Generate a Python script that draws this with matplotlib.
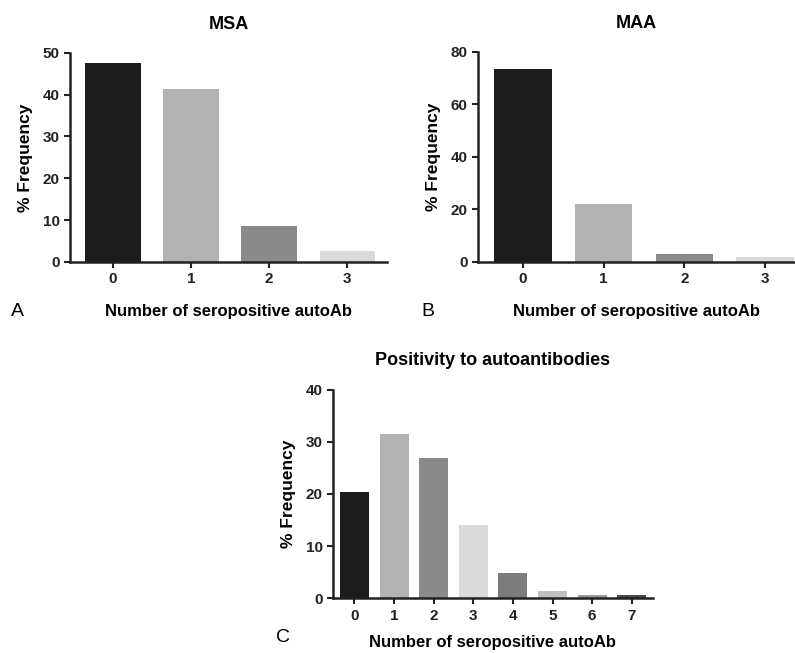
import matplotlib
matplotlib.use("Agg")
import matplotlib.pyplot as plt

plt.rcParams['font.family'] = ['Liberation Sans', 'DejaVu Sans']
plt.rcParams['font.weight'] = 'bold'

# Panel A - MSA
msa_counts = [0, 1, 2, 3]
msa_freq = [47.7, 41.3, 8.6, 2.5]
msa_colors = ['#1c1c1c', '#b2b2b2', '#8a8a8a', '#dadada']

# Panel B - MAA
maa_counts = [0, 1, 2, 3]
maa_freq = [73.4, 22.2, 2.9, 1.7]
maa_colors = ['#1c1c1c', '#b2b2b2', '#8a8a8a', '#dadada']

# Panel C - all autoantibodies
all_counts = [0, 1, 2, 3, 4, 5, 6, 7]
all_freq = [20.3, 31.6, 27.0, 14.0, 4.8, 1.4, 0.6, 0.6]
all_colors = ['#1c1c1c', '#b2b2b2', '#8a8a8a', '#dadada',
              '#7c7c7c', '#c0c0c0', '#9a9a9a', '#4a4a4a']

xlabel = 'Number of seropositive autoAb'
ylabel = '% Frequency'


def style_axes(ax, counts, ymax, yticks, xlim, xpad=13):
    ax.set_xlim(*xlim)
    ax.set_ylim(0, ymax)
    ax.set_xticks(counts)
    ax.set_yticks(yticks)
    for s in ['top', 'right']:
        ax.spines[s].set_visible(False)
    for s in ['left', 'bottom']:
        ax.spines[s].set_linewidth(1.8)
        ax.spines[s].set_color('#222222')
    ax.tick_params(direction='out', length=4, width=1.5, labelsize=11,
                   colors='#222222')
    for lab in ax.get_xticklabels() + ax.get_yticklabels():
        lab.set_fontweight('bold')
    ax.set_xlabel(xlabel, fontsize=12, fontweight='bold', labelpad=xpad)
    ax.set_ylabel(ylabel, fontsize=12.5, fontweight='bold', labelpad=7)


fig = plt.figure(figsize=(7.95, 6.53), dpi=100)

# A
axA = fig.add_axes([0.088, 0.599, 0.399, 0.320])
axA.bar(msa_counts, msa_freq, width=0.71, color=msa_colors)
style_axes(axA, msa_counts, 50, [0, 10, 20, 30, 40, 50], (-0.55, 3.51))
axA.set_title('MSA', fontsize=13, fontweight='bold', pad=17)

# B
axB = fig.add_axes([0.601, 0.599, 0.399, 0.322])
axB.bar(maa_counts, maa_freq, width=0.71, color=maa_colors)
style_axes(axB, maa_counts, 80, [0, 20, 40, 60, 80], (-0.56, 3.37))
axB.set_title('MAA', fontsize=13, fontweight='bold', pad=17)

# C
axC = fig.add_axes([0.419, 0.084, 0.402, 0.319])
axC.bar(all_counts, all_freq, width=0.73, color=all_colors)
style_axes(axC, all_counts, 40, [0, 10, 20, 30, 40], (-0.54, 7.53), xpad=9)
axC.set_title('Positivity to autoantibodies', fontsize=13, fontweight='bold', pad=18)

# panel letters
fig.text(0.022, 1 - 312 / 653, 'A', fontsize=14, fontweight='normal', va='center', ha='center')
fig.text(0.538, 1 - 312 / 653, 'B', fontsize=14, fontweight='normal', va='center', ha='center')
fig.text(0.356, 1 - 638 / 653, 'C', fontsize=14, fontweight='normal', va='center', ha='center')

fig.savefig('out.png', dpi=100)
